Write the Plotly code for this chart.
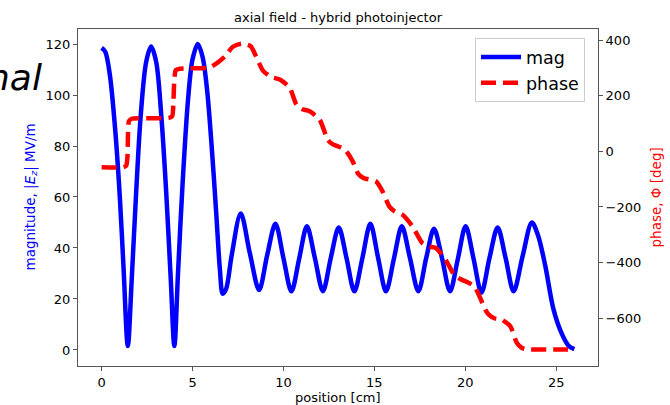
import plotly.graph_objects as go

# magnitude |Ez| [MV/m] vs position [cm]
mag_x = [0.0, 0.2, 0.45, 0.75, 1.0, 1.2, 1.44, 1.65, 1.9, 2.15, 2.45, 2.72,
         3.0, 3.3, 3.55, 3.8, 4.0, 4.2, 4.45, 4.75, 5.0, 5.29,
         5.55, 5.8, 6.05, 6.3, 6.5, 6.66, 6.85, 7.15, 7.65, 8.15, 8.66,
         9.1, 9.56, 10.0, 10.44, 10.87, 11.29, 11.73, 12.17, 12.6, 13.04,
         13.47, 13.9, 14.34, 14.78, 15.21, 15.64, 16.08, 16.51, 16.96, 17.42,
         17.85, 18.28, 18.72, 19.16, 19.6, 20.02, 20.45, 20.89, 21.33, 21.78,
         22.22, 22.66, 23.16, 23.66, 24.0, 24.4, 24.85, 25.3, 25.7, 26.0]
mag_y = [118.5, 117, 108, 86, 60, 33, 1.5, 27, 62, 92, 113, 119,
         113, 90, 62, 28, 1.5, 30, 65, 98, 114, 120,
         115, 102, 80, 54, 32, 22, 24, 37, 53.5, 38, 23.5,
         37, 49.5, 36, 23, 36, 48.5, 36, 23, 36, 48,
         36, 23, 36, 49.5, 36, 23, 36, 48.5, 36, 23,
         36, 47.5, 36, 23, 36, 48.5, 36, 22.5, 36, 48,
         36, 23, 37, 50, 45, 33, 16, 6.5, 1.5, 0.3]

# phase Phi [deg] vs position [cm]
ph_x = [0.0, 1.2, 1.35, 1.42, 1.45, 1.5, 1.65, 3.7, 3.88, 3.95, 4.0, 4.08,
        4.3, 5.9, 6.3, 6.8, 7.2, 7.7, 8.2, 8.5, 8.87, 9.3, 9.8, 10.34,
        10.71, 11.0, 11.44, 11.99, 12.45, 12.7, 13.0, 13.4, 13.81, 14.1,
        14.4, 15.09, 15.45, 15.82, 16.1, 16.55, 17.1, 17.64, 18.0, 18.37,
        18.92, 19.38, 19.7, 20.2, 20.5, 20.84, 21.1, 21.29, 21.6, 22.0,
        22.48, 22.84, 23.1, 23.3, 26.0]
ph_y = [-57, -57, -52, -20, 60, 108, 117, 120, 126, 180, 260, 292,
        297, 301, 315, 342, 375, 387, 378, 340, 290, 268, 258, 229,
        168, 152, 144, 114, 40, 26, 18, 5, -36, -80,
        -96, -108, -144, -198, -215, -228, -270, -330, -342, -347,
        -390, -443, -458, -473, -485, -530, -569, -587, -600, -605,
        -629, -689, -706, -711, -712]

x_ticks = [0, 5, 10, 15, 20, 25]
mag_ticks = [0, 20, 40, 60, 80, 100, 120]
ph_ticks = [-600, -400, -200, 0, 200, 400]

FONT = "DejaVu Sans"
AX = "#555555"

fig = go.Figure()
fig.add_trace(go.Scatter(x=mag_x, y=mag_y, name="mag", mode="lines",
                         line=dict(color="#0000ff", width=4.5, shape="spline", smoothing=0.9),
                         yaxis="y"))
fig.add_trace(go.Scatter(x=ph_x, y=ph_y, name="phase", mode="lines",
                         line=dict(color="#ff0000", width=4.5, dash="15px,7px",
                                   shape="spline", smoothing=0.6),
                         yaxis="y2"))

fig.update_layout(
    width=670, height=405,
    margin=dict(l=78, r=72, t=29, b=39),
    paper_bgcolor="white", plot_bgcolor="white",
    font=dict(family=FONT, size=13, color="black"),
    showlegend=True,
    legend=dict(x=0.975, y=0.973, xanchor="right", yanchor="top",
                font=dict(size=17.5, family=FONT),
                bgcolor="rgba(255,255,255,0.85)", bordercolor="#cccccc", borderwidth=1,
                tracegroupgap=0, itemwidth=40),
    title=dict(text="axial field - hybrid photoinjector", x=0.5, xref="paper",
               xanchor="center", y=1 - 17 / 405, yref="container", yanchor="middle",
               font=dict(size=13, family=FONT)),
    xaxis=dict(range=[-1.3, 27.3], tickvals=x_ticks, showgrid=False, zeroline=False,
               showline=True, linecolor=AX, linewidth=1, mirror=True,
               ticks="outside", ticklen=4, tickcolor=AX, tickfont=dict(size=13)),
    yaxis=dict(range=[-6.3, 125.9], tickvals=mag_ticks, showgrid=False, zeroline=False,
               showline=True, linecolor=AX, linewidth=1,
               ticks="outside", ticklen=4, tickcolor=AX, tickfont=dict(size=13)),
    yaxis2=dict(range=[-771.6, 439.6], tickvals=ph_ticks, overlaying="y", side="right",
                showgrid=False, zeroline=False, showline=True, linecolor=AX, linewidth=1,
                ticks="outside", ticklen=4, tickcolor=AX, tickfont=dict(size=13)),
)

fig.add_annotation(text="position [cm]", xref="paper", yref="paper",
                   x=0.5, y=-(397 - 366) / 337, xanchor="center", yanchor="middle",
                   showarrow=False, font=dict(size=13, family=FONT))
fig.add_annotation(text="magnitude, |<i>E</i><sub><i>z</i></sub>| MV/m", xref="paper", yref="paper",
                   x=-(78 - 30) / 520, y=0.5, xanchor="center", yanchor="middle",
                   textangle=-90, showarrow=False,
                   font=dict(size=13.5, family=FONT, color="#0000ff"))
fig.add_annotation(text="phase, Φ [deg]", xref="paper", yref="paper",
                   x=1 + (655 - 598) / 520, y=0.5, xanchor="center", yanchor="middle",
                   textangle=-90, showarrow=False,
                   font=dict(size=13.5, family=FONT, color="#ff0000"))
fig.add_annotation(text="<i>nal</i>", xref="paper", yref="paper",
                   x=-(78 - 44) / 520, y=1 + (29 - 77) / 337, xanchor="right", yanchor="middle",
                   showarrow=False, font=dict(size=36, family=FONT, color="black"))

fig.write_html("out.html", config={"displayModeBar": False},
               post_script="document.body.style.margin='0';")
